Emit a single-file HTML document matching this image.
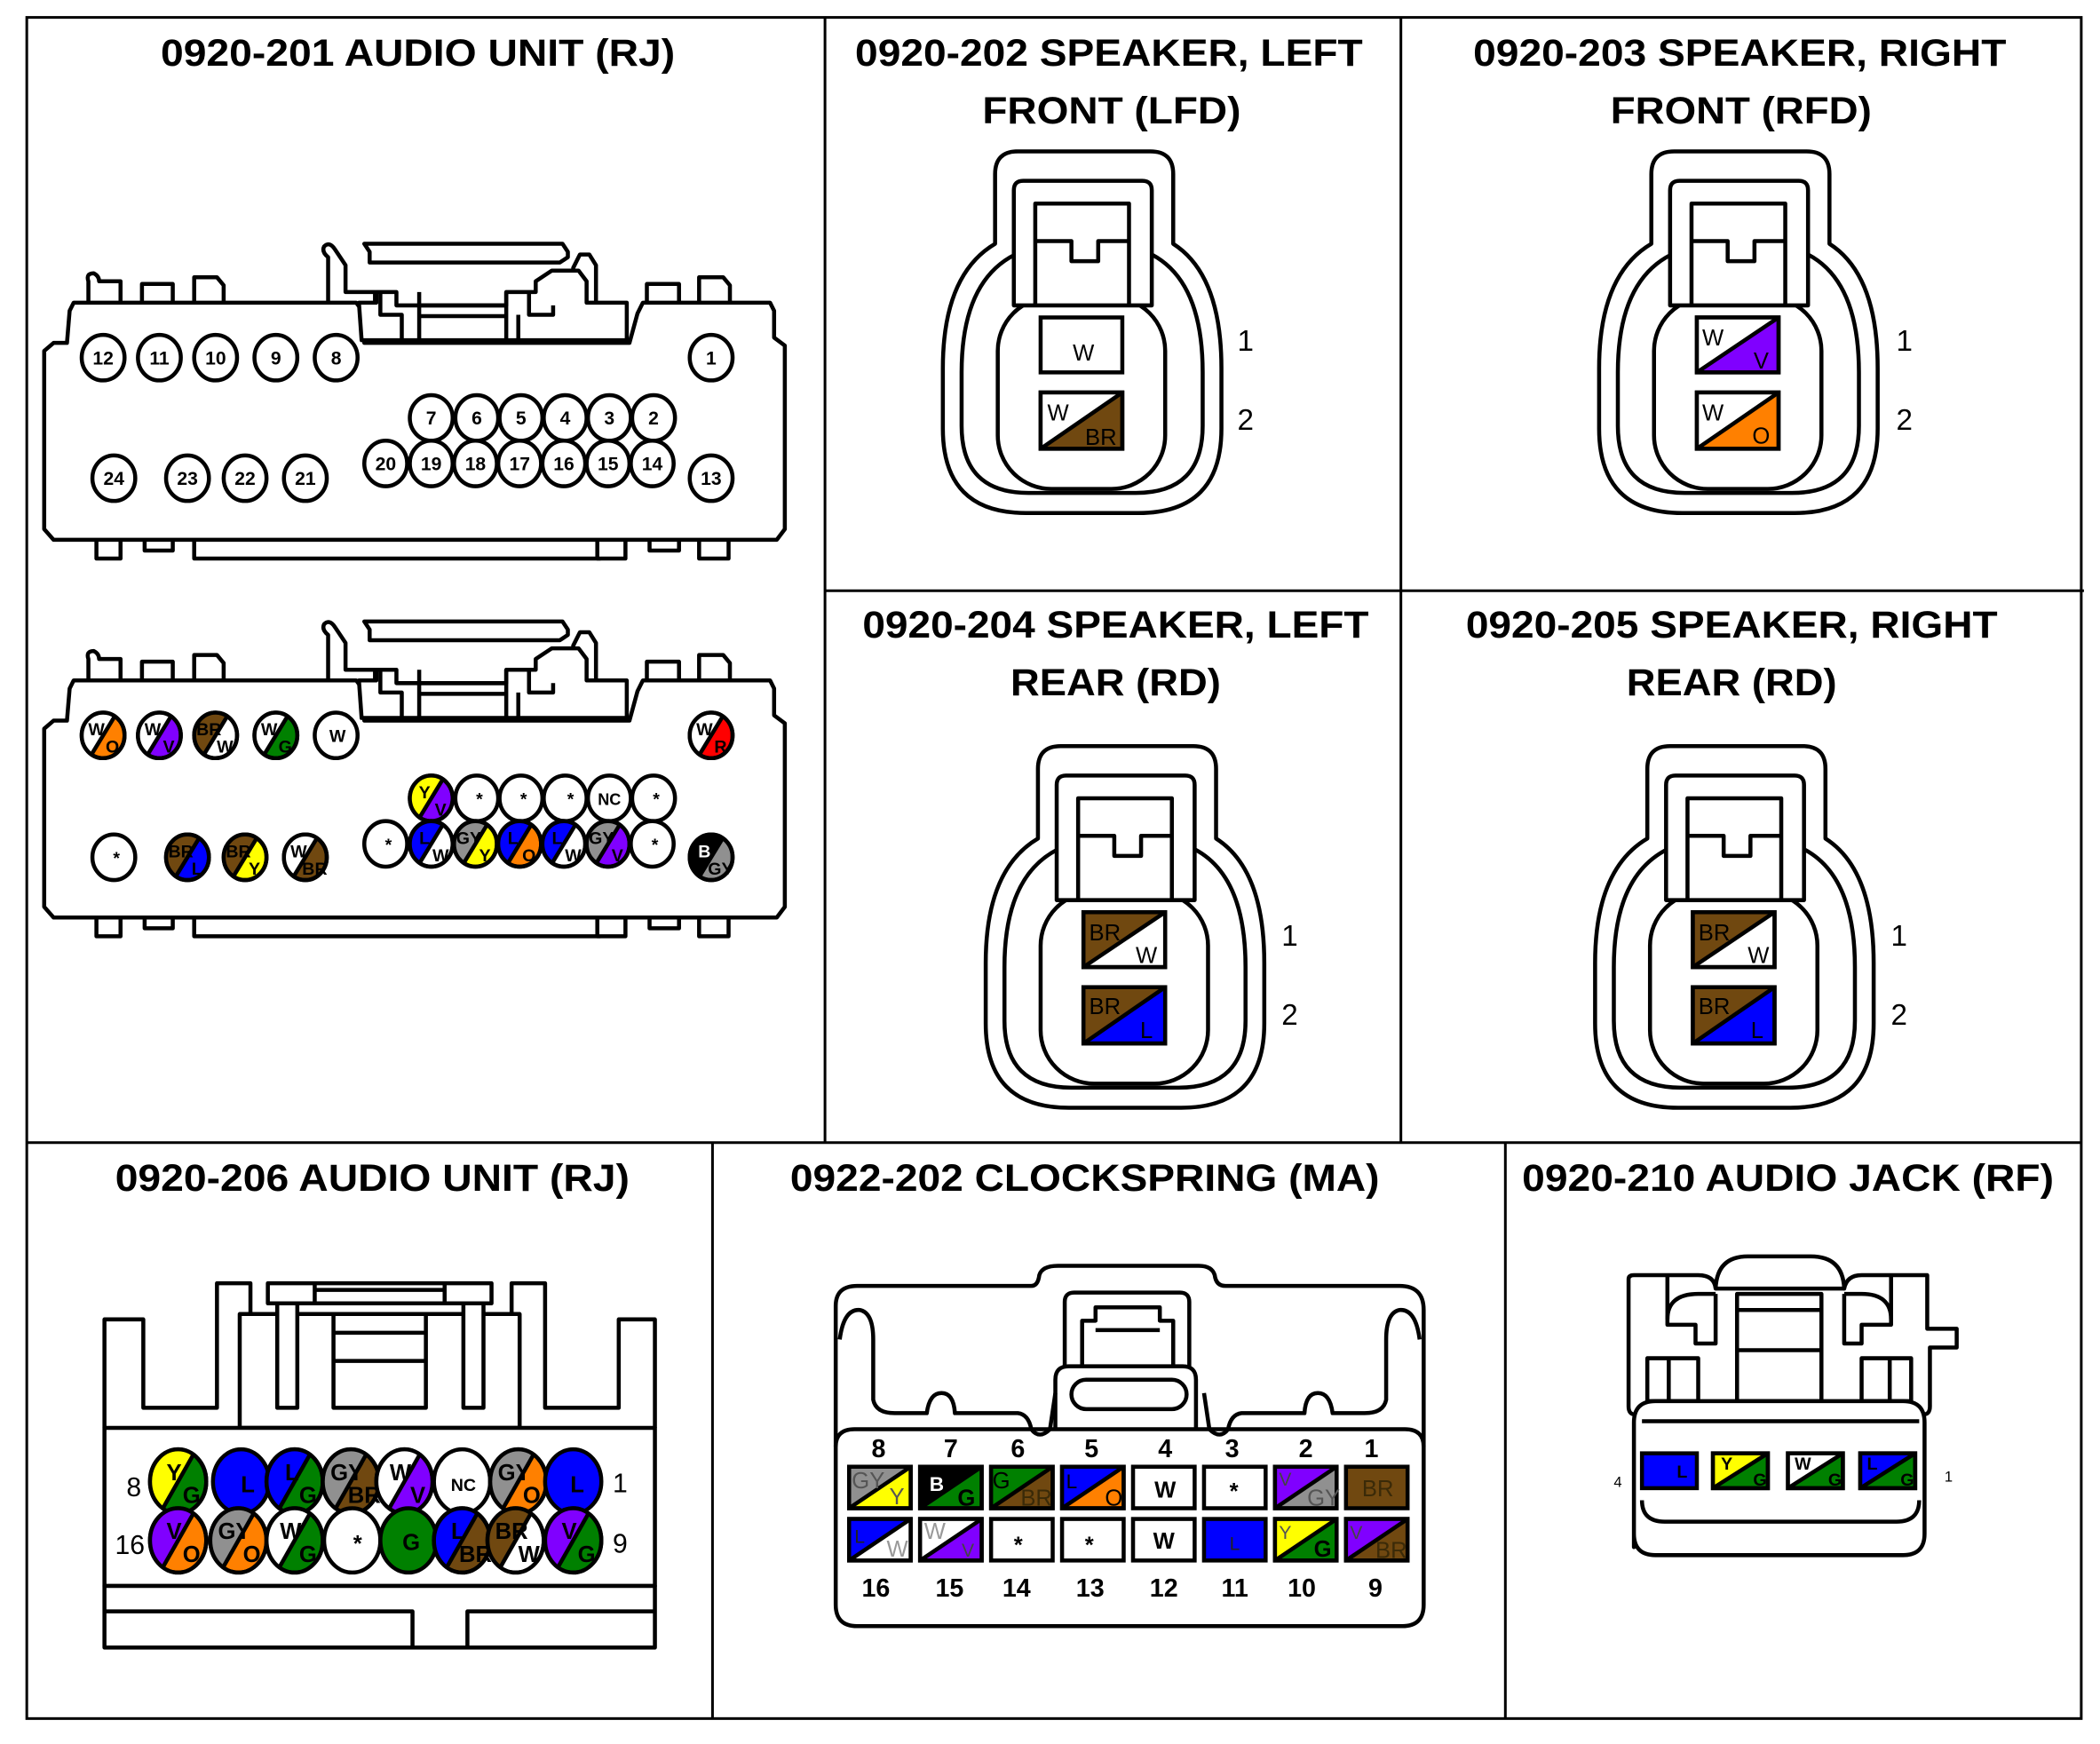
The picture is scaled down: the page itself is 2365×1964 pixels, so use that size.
<!DOCTYPE html>
<html><head><meta charset="utf-8"><style>
html,body{margin:0;padding:0;background:#fff}
svg{display:block}
text{font-family:"Liberation Sans",Arial,sans-serif}
.t{font-size:28px;font-weight:bold;text-anchor:middle}
.o{fill:none;stroke:#000;stroke-width:3;stroke-linejoin:round}
.ow{fill:#fff;stroke:#000;stroke-width:3;stroke-linejoin:round}
.n{font-size:14px;font-weight:bold;text-anchor:middle}
.pin ellipse{stroke:#000;stroke-width:3}
.pin line{stroke:#000;stroke-width:3}
.pin path{stroke:none}
.pl{font-size:13px;font-weight:bold;text-anchor:middle}
.pb{font-size:17px;font-weight:bold;text-anchor:middle}
.num{font-size:22px;text-anchor:middle}
.cn{font-size:19px;font-weight:bold;text-anchor:middle}
.cell rect{stroke:#000;stroke-width:3}
.cell line{stroke:#000;stroke-width:3}
</style></head><body>
<svg width="2365" height="1964" viewBox="0 0 1568 1302" preserveAspectRatio="none" xmlns="http://www.w3.org/2000/svg">
<rect x="0" y="0" width="1568" height="1302" fill="#fff"/>
<g stroke="#000" stroke-width="2" fill="none">
<rect x="20" y="13" width="1534" height="1270"/>
<line x1="616" y1="13" x2="616" y2="853"/>
<line x1="1046" y1="13" x2="1046" y2="853"/>
<line x1="616" y1="441" x2="1556" y2="441"/>
<line x1="20" y1="853" x2="1554" y2="853"/>
<line x1="532" y1="853" x2="532" y2="1283"/>
<line x1="1124" y1="853" x2="1124" y2="1283"/>
</g>
<text class="t" x="312" y="49" textLength="384" lengthAdjust="spacingAndGlyphs">0920-201 AUDIO UNIT (RJ)</text>
<text class="t" x="828" y="49" textLength="379" lengthAdjust="spacingAndGlyphs">0920-202 SPEAKER, LEFT</text>
<text class="t" x="830" y="92" textLength="193" lengthAdjust="spacingAndGlyphs">FRONT (LFD)</text>
<text class="t" x="1299" y="49" textLength="398" lengthAdjust="spacingAndGlyphs">0920-203 SPEAKER, RIGHT</text>
<text class="t" x="1300" y="92" textLength="195" lengthAdjust="spacingAndGlyphs">FRONT (RFD)</text>
<text class="t" x="833" y="476" textLength="378" lengthAdjust="spacingAndGlyphs">0920-204 SPEAKER, LEFT</text>
<text class="t" x="833" y="519" textLength="157" lengthAdjust="spacingAndGlyphs">REAR (RD)</text>
<text class="t" x="1293" y="476" textLength="397" lengthAdjust="spacingAndGlyphs">0920-205 SPEAKER, RIGHT</text>
<text class="t" x="1293" y="519" textLength="157" lengthAdjust="spacingAndGlyphs">REAR (RD)</text>
<text class="t" x="278" y="889" textLength="384" lengthAdjust="spacingAndGlyphs">0920-206 AUDIO UNIT (RJ)</text>
<text class="t" x="810" y="889" textLength="440" lengthAdjust="spacingAndGlyphs">0922-202 CLOCKSPRING (MA)</text>
<text class="t" x="1335" y="889" textLength="397" lengthAdjust="spacingAndGlyphs">0920-210 AUDIO JACK (RF)</text>

<defs>
<g id="c201">
 <path class="ow" d="M66,226 V210 Q64,204 70,204 Q74,206 74,210 H90 V226"/>
 <path class="ow" d="M106,226 V212 H129 V226"/>
 <path class="ow" d="M145,226 V207 H162 L167,213 V226"/>
 <path class="ow" d="M483,226 V212 H507 V226"/>
 <path class="ow" d="M522,226 V207 H540 L545,213 V226"/>
 <path class="ow" d="M72,400 V417 H90 V400"/>
 <path class="ow" d="M108,400 V411 H129 V400"/>
 <path class="ow" d="M145,400 V417 H448 V400"/>
 <path class="ow" d="M446,400 V417 H467 V400"/>
 <path class="ow" d="M485,400 V411 H507 V400"/>
 <path class="ow" d="M522,400 V417 H544 V400"/>
 <path class="ow" d="M245,226 V192 Q240,188 242,184 Q246,180 250,186 L258,198 V218 H280 V226"/>
 <path class="ow" d="M445,226 V198 L440,190 H433 L428,200 V216 H413 V226"/>
 <path class="ow" d="M276,188 L272,182 H420 L424,188 V192 L418,196 H276 Z"/>
 <path class="ow" d="M55,226 H266 L272,234 V256 H470 L476,234 L480,226 H575 L578,232 V252 L586,258 V395 L580,403 H40 L33,395 V262 L40,256 H50 L52,232 Z"/>
 <path class="ow" d="M268,226 H281 V218 L296,218 V228 H378 V218 H400 V210 L412,202 H432 L438,210 V226 H468 V254 H270 Z"/>
 <path class="o" d="M284,218 V235 H300 V254"/>
 <path class="o" d="M313,218 V254"/>
 <path class="o" d="M313,228 H378 M313,236 H378"/>
 <path class="o" d="M378,218 V254"/>
 <path class="o" d="M395,218 V235 H413 V228 M387,235 V254"/>
</g>
</defs>
<use href="#c201"/>
<use href="#c201" transform="translate(0,282)"/>

<g fill="#fff" stroke="#000" stroke-width="3">
<ellipse cx="77" cy="267" rx="16" ry="17"/><ellipse cx="119" cy="267" rx="16" ry="17"/><ellipse cx="161" cy="267" rx="16" ry="17"/><ellipse cx="206" cy="267" rx="16" ry="17"/><ellipse cx="251" cy="267" rx="16" ry="17"/><ellipse cx="531" cy="267" rx="16" ry="17"/>
<ellipse cx="322" cy="312" rx="16" ry="17"/><ellipse cx="356" cy="312" rx="16" ry="17"/><ellipse cx="389" cy="312" rx="16" ry="17"/><ellipse cx="422" cy="312" rx="16" ry="17"/><ellipse cx="455" cy="312" rx="16" ry="17"/><ellipse cx="488" cy="312" rx="16" ry="17"/>
<ellipse cx="288" cy="346" rx="16" ry="17"/><ellipse cx="322" cy="346" rx="16" ry="17"/><ellipse cx="355" cy="346" rx="16" ry="17"/><ellipse cx="388" cy="346" rx="16" ry="17"/><ellipse cx="421" cy="346" rx="16" ry="17"/><ellipse cx="454" cy="346" rx="16" ry="17"/><ellipse cx="487" cy="346" rx="16" ry="17"/>
<ellipse cx="85" cy="357" rx="16" ry="17"/><ellipse cx="140" cy="357" rx="16" ry="17"/><ellipse cx="183" cy="357" rx="16" ry="17"/><ellipse cx="228" cy="357" rx="16" ry="17"/><ellipse cx="531" cy="357" rx="16" ry="17"/>
</g>
<g class="n">
<text x="77" y="272">12</text><text x="119" y="272">11</text><text x="161" y="272">10</text><text x="206" y="272">9</text><text x="251" y="272">8</text><text x="531" y="272">1</text>
<text x="322" y="317">7</text><text x="356" y="317">6</text><text x="389" y="317">5</text><text x="422" y="317">4</text><text x="455" y="317">3</text><text x="488" y="317">2</text>
<text x="288" y="351">20</text><text x="322" y="351">19</text><text x="355" y="351">18</text><text x="388" y="351">17</text><text x="421" y="351">16</text><text x="454" y="351">15</text><text x="487" y="351">14</text>
<text x="85" y="362">24</text><text x="140" y="362">23</text><text x="183" y="362">22</text><text x="228" y="362">21</text><text x="531" y="362">13</text>
</g>

<defs>
<path id="h1" d="M-8.7,14.3A16,17 0 0 1 8.7,-14.3Z"/>
<path id="h2" d="M-11.4,20.1A21,24 0 0 1 11.4,-20.1Z"/>
</defs>
<g class="pin">
<g transform="translate(77,549)"><ellipse rx="16" ry="17" fill="#ff8000"/><use href="#h1" fill="#fff"/><line x1="-8.7" y1="14.3" x2="8.7" y2="-14.3"/><ellipse rx="16" ry="17" fill="none"/><text class="pl" x="-5" y="0">W</text><text class="pl" x="7" y="13">O</text></g>
<g transform="translate(119,549)"><ellipse rx="16" ry="17" fill="#8000ff"/><use href="#h1" fill="#fff"/><line x1="-8.7" y1="14.3" x2="8.7" y2="-14.3"/><ellipse rx="16" ry="17" fill="none"/><text class="pl" x="-5" y="0">W</text><text class="pl" x="7" y="13">V</text></g>
<g transform="translate(161,549)"><ellipse rx="16" ry="17" fill="#fff"/><use href="#h1" fill="#704810"/><line x1="-8.7" y1="14.3" x2="8.7" y2="-14.3"/><ellipse rx="16" ry="17" fill="none"/><text class="pl" x="-5" y="0">BR</text><text class="pl" x="7" y="13">W</text></g>
<g transform="translate(206,549)"><ellipse rx="16" ry="17" fill="#008000"/><use href="#h1" fill="#fff"/><line x1="-8.7" y1="14.3" x2="8.7" y2="-14.3"/><ellipse rx="16" ry="17" fill="none"/><text class="pl" x="-5" y="0">W</text><text class="pl" x="7" y="13">G</text></g>
<g transform="translate(251,549)"><ellipse rx="16" ry="17" fill="#fff"/><text class="pl" x="1" y="5">W</text></g>
<g transform="translate(531,549)"><ellipse rx="16" ry="17" fill="#ff0000"/><use href="#h1" fill="#fff"/><line x1="-8.7" y1="14.3" x2="8.7" y2="-14.3"/><ellipse rx="16" ry="17" fill="none"/><text class="pl" x="-5" y="0">W</text><text class="pl" x="7" y="13">R</text></g>

<g transform="translate(322,596)"><ellipse rx="16" ry="17" fill="#8000ff"/><use href="#h1" fill="#ffff00"/><line x1="-8.7" y1="14.3" x2="8.7" y2="-14.3"/><ellipse rx="16" ry="17" fill="none"/><text class="pl" x="-5" y="0">Y</text><text class="pl" x="7" y="13">V</text></g>
<g transform="translate(356,596)"><ellipse rx="16" ry="17" fill="#fff"/><text class="pl" x="2" y="5">*</text></g>
<g transform="translate(389,596)"><ellipse rx="16" ry="17" fill="#fff"/><text class="pl" x="2" y="5">*</text></g>
<g transform="translate(422,596)"><ellipse rx="16" ry="17" fill="#fff"/><text class="pl" x="4" y="5">*</text></g>
<g transform="translate(455,596)"><ellipse rx="16" ry="17" fill="#fff"/><text class="pl" x="0" y="5" style="font-size:12px">NC</text></g>
<g transform="translate(488,596)"><ellipse rx="16" ry="17" fill="#fff"/><text class="pl" x="2" y="5">*</text></g>

<g transform="translate(288,630)"><ellipse rx="16" ry="17" fill="#fff"/><text class="pl" x="2" y="5">*</text></g>
<g transform="translate(322,630)"><ellipse rx="16" ry="17" fill="#fff"/><use href="#h1" fill="#0000ff"/><line x1="-8.7" y1="14.3" x2="8.7" y2="-14.3"/><ellipse rx="16" ry="17" fill="none"/><text class="pl" x="-5" y="0">L</text><text class="pl" x="7" y="13">W</text></g>
<g transform="translate(355,630)"><ellipse rx="16" ry="17" fill="#ffff00"/><use href="#h1" fill="#909090"/><line x1="-8.7" y1="14.3" x2="8.7" y2="-14.3"/><ellipse rx="16" ry="17" fill="none"/><text class="pl" x="-5" y="0">GY</text><text class="pl" x="7" y="13">Y</text></g>
<g transform="translate(388,630)"><ellipse rx="16" ry="17" fill="#ff8000"/><use href="#h1" fill="#0000ff"/><line x1="-8.7" y1="14.3" x2="8.7" y2="-14.3"/><ellipse rx="16" ry="17" fill="none"/><text class="pl" x="-5" y="0">L</text><text class="pl" x="7" y="13">O</text></g>
<g transform="translate(421,630)"><ellipse rx="16" ry="17" fill="#fff"/><use href="#h1" fill="#0000ff"/><line x1="-8.7" y1="14.3" x2="8.7" y2="-14.3"/><ellipse rx="16" ry="17" fill="none"/><text class="pl" x="-5" y="0">L</text><text class="pl" x="7" y="13">W</text></g>
<g transform="translate(454,630)"><ellipse rx="16" ry="17" fill="#8000ff"/><use href="#h1" fill="#909090"/><line x1="-8.7" y1="14.3" x2="8.7" y2="-14.3"/><ellipse rx="16" ry="17" fill="none"/><text class="pl" x="-5" y="0">GY</text><text class="pl" x="7" y="13">V</text></g>
<g transform="translate(487,630)"><ellipse rx="16" ry="17" fill="#fff"/><text class="pl" x="2" y="5">*</text></g>

<g transform="translate(85,640)"><ellipse rx="16" ry="17" fill="#fff"/><text class="pl" x="2" y="5">*</text></g>
<g transform="translate(140,640)"><ellipse rx="16" ry="17" fill="#0000ff"/><use href="#h1" fill="#704810"/><line x1="-8.7" y1="14.3" x2="8.7" y2="-14.3"/><ellipse rx="16" ry="17" fill="none"/><text class="pl" x="-5" y="0">BR</text><text class="pl" x="7" y="13">L</text></g>
<g transform="translate(183,640)"><ellipse rx="16" ry="17" fill="#ffff00"/><use href="#h1" fill="#704810"/><line x1="-8.7" y1="14.3" x2="8.7" y2="-14.3"/><ellipse rx="16" ry="17" fill="none"/><text class="pl" x="-5" y="0">BR</text><text class="pl" x="7" y="13">Y</text></g>
<g transform="translate(228,640)"><ellipse rx="16" ry="17" fill="#704810"/><use href="#h1" fill="#fff"/><line x1="-8.7" y1="14.3" x2="8.7" y2="-14.3"/><ellipse rx="16" ry="17" fill="none"/><text class="pl" x="-5" y="0">W</text><text class="pl" x="7" y="13">BR</text></g>
<g transform="translate(531,640)"><ellipse rx="16" ry="17" fill="#909090"/><use href="#h1" fill="#000"/><line x1="-8.7" y1="14.3" x2="8.7" y2="-14.3"/><ellipse rx="16" ry="17" fill="none"/><text class="pl" x="-5" y="0" fill="#fff">B</text><text class="pl" x="7" y="13">GY</text></g>
</g>

<defs>
<g id="spk">
 <path class="o" d="M743,182 V130 Q743,113 760,113 H859 Q876,113 876,130 V182 Q912,205 912,275 V320 Q912,383 850,383 H766 Q704,383 704,320 V275 Q704,205 743,182 Z"/>
 <path class="o" d="M758,190 Q718,210 718,278 V318 Q718,368 768,368 H848 Q898,368 898,318 V278 Q898,210 860,190"/>
 <rect class="o" x="745" y="222" width="125" height="143" rx="40"/>
 <path class="ow" d="M757,228 V142 Q757,135 764,135 H853 Q860,135 860,142 V228 Z"/>
 <path class="o" d="M773,228 V152 H843 V228"/>
 <path class="o" d="M773,180 H800 V195 H820 V180 H843"/>
</g>
</defs>
<use href="#spk"/>
<use href="#spk" transform="translate(490,0)"/>
<use href="#spk" transform="translate(32,444)"/>
<use href="#spk" transform="translate(487,444)"/>

<g class="cell">
<rect x="777" y="237" width="61" height="41" fill="#fff"/><text class="pb" x="809" y="269" style="font-weight:normal">W</text>
<rect x="777" y="293" width="61" height="42" fill="#704810"/><path d="M777,335 V293 H838 Z" fill="#fff"/><line x1="777" y1="335" x2="838" y2="293"/><rect x="777" y="293" width="61" height="42" fill="none"/><text class="pb" x="790" y="314" style="font-weight:normal">W</text><text class="pb" x="822" y="332" style="font-weight:normal">BR</text>
<rect x="1267" y="237" width="61" height="41" fill="#8000ff"/><path d="M1267,278 V237 H1328 Z" fill="#fff"/><line x1="1267" y1="278" x2="1328" y2="237"/><rect x="1267" y="237" width="61" height="41" fill="none"/><text class="pb" x="1279" y="258" style="font-weight:normal">W</text><text class="pb" x="1315" y="275" style="font-weight:normal">V</text>
<rect x="1267" y="293" width="61" height="42" fill="#ff8000"/><path d="M1267,335 V293 H1328 Z" fill="#fff"/><line x1="1267" y1="335" x2="1328" y2="293"/><rect x="1267" y="293" width="61" height="42" fill="none"/><text class="pb" x="1279" y="314" style="font-weight:normal">W</text><text class="pb" x="1315" y="331" style="font-weight:normal">O</text>
<rect x="809" y="681" width="61" height="41" fill="#fff"/><path d="M809,722 V681 H870 Z" fill="#704810"/><line x1="809" y1="722" x2="870" y2="681"/><rect x="809" y="681" width="61" height="41" fill="none"/><text class="pb" x="825" y="702" style="font-weight:normal">BR</text><text class="pb" x="856" y="719" style="font-weight:normal">W</text>
<rect x="809" y="737" width="61" height="42" fill="#0000ff"/><path d="M809,779 V737 H870 Z" fill="#704810"/><line x1="809" y1="779" x2="870" y2="737"/><rect x="809" y="737" width="61" height="42" fill="none"/><text class="pb" x="825" y="757" style="font-weight:normal">BR</text><text class="pb" x="856" y="775" style="font-weight:normal">L</text>
<rect x="1264" y="681" width="61" height="41" fill="#fff"/><path d="M1264,722 V681 H1325 Z" fill="#704810"/><line x1="1264" y1="722" x2="1325" y2="681"/><rect x="1264" y="681" width="61" height="41" fill="none"/><text class="pb" x="1280" y="702" style="font-weight:normal">BR</text><text class="pb" x="1313" y="719" style="font-weight:normal">W</text>
<rect x="1264" y="737" width="61" height="42" fill="#0000ff"/><path d="M1264,779 V737 H1325 Z" fill="#704810"/><line x1="1264" y1="779" x2="1325" y2="737"/><rect x="1264" y="737" width="61" height="42" fill="none"/><text class="pb" x="1280" y="757" style="font-weight:normal">BR</text><text class="pb" x="1312" y="775" style="font-weight:normal">L</text>
</g>
<g class="num">
<text x="930" y="262">1</text><text x="930" y="321">2</text>
<text x="1422" y="262">1</text><text x="1422" y="321">2</text>
<text x="963" y="706">1</text><text x="963" y="765">2</text>
<text x="1418" y="706">1</text><text x="1418" y="765">2</text>
</g>

<g>
<path class="ow" d="M78,1066 V985 H107 V1051 H162 V958 H187 V1051"/>
<path class="ow" d="M489,1066 V985 H462 V1051 H407 V958 H382 V1051"/>
<rect class="ow" x="179" y="981" width="209" height="85"/>
<rect class="ow" x="200" y="958" width="167" height="15"/>
<path class="o" d="M235,958 V973 M332,958 V973 M235,963 H332"/>
<rect class="ow" x="207" y="973" width="15" height="78"/>
<rect class="ow" x="346" y="973" width="15" height="78"/>
<rect class="ow" x="249" y="981" width="69" height="70"/>
<path class="o" d="M249,995 H318 M249,1016 H318"/>
<rect class="ow" x="78" y="1066" width="411" height="118"/>
<rect class="ow" x="78" y="1184" width="411" height="46"/>
<path class="o" d="M78,1203 H308 V1230 M489,1203 H349 V1230"/>
</g>
<g class="pin">
<g transform="translate(133,1106)"><ellipse rx="21" ry="24" fill="#008000"/><use href="#h2" fill="#ffff00"/><line x1="-11.4" y1="20.1" x2="11.4" y2="-20.1"/><ellipse rx="21" ry="24" fill="none"/><text class="pb" x="-3" y="-1">Y</text><text class="pb" x="10" y="16">G</text></g>
<g transform="translate(180,1106)"><ellipse rx="21" ry="24" fill="#0000ff"/><text class="pb" x="5" y="8">L</text></g>
<g transform="translate(220,1106)"><ellipse rx="21" ry="24" fill="#008000"/><use href="#h2" fill="#0000ff"/><line x1="-11.4" y1="20.1" x2="11.4" y2="-20.1"/><ellipse rx="21" ry="24" fill="none"/><text class="pb" x="-2" y="-1">L</text><text class="pb" x="10" y="16">G</text></g>
<g transform="translate(262,1106)"><ellipse rx="21" ry="24" fill="#704810"/><use href="#h2" fill="#909090"/><line x1="-11.4" y1="20.1" x2="11.4" y2="-20.1"/><ellipse rx="21" ry="24" fill="none"/><text class="pb" x="-3" y="-1">GY</text><text class="pb" x="10" y="16">BR</text></g>
<g transform="translate(302,1106)"><ellipse rx="21" ry="24" fill="#8000ff"/><use href="#h2" fill="#fff"/><line x1="-11.4" y1="20.1" x2="11.4" y2="-20.1"/><ellipse rx="21" ry="24" fill="none"/><text class="pb" x="-3" y="-1">W</text><text class="pb" x="10" y="16">V</text></g>
<g transform="translate(345,1106)"><ellipse rx="21" ry="24" fill="#fff"/><text class="pl" x="1" y="7">NC</text></g>
<g transform="translate(387,1106)"><ellipse rx="21" ry="24" fill="#ff8000"/><use href="#h2" fill="#909090"/><line x1="-11.4" y1="20.1" x2="11.4" y2="-20.1"/><ellipse rx="21" ry="24" fill="none"/><text class="pb" x="-3" y="-1">GY</text><text class="pb" x="10" y="16">O</text></g>
<g transform="translate(428,1106)"><ellipse rx="21" ry="24" fill="#0000ff"/><text class="pb" x="3" y="8">L</text></g>

<g transform="translate(133,1150)"><ellipse rx="21" ry="24" fill="#ff8000"/><use href="#h2" fill="#8000ff"/><line x1="-11.4" y1="20.1" x2="11.4" y2="-20.1"/><ellipse rx="21" ry="24" fill="none"/><text class="pb" x="-3" y="-1">V</text><text class="pb" x="10" y="16">O</text></g>
<g transform="translate(178,1150)"><ellipse rx="21" ry="24" fill="#ff8000"/><use href="#h2" fill="#909090"/><line x1="-11.4" y1="20.1" x2="11.4" y2="-20.1"/><ellipse rx="21" ry="24" fill="none"/><text class="pb" x="-3" y="-1">GY</text><text class="pb" x="10" y="16">O</text></g>
<g transform="translate(220,1150)"><ellipse rx="21" ry="24" fill="#008000"/><use href="#h2" fill="#fff"/><line x1="-11.4" y1="20.1" x2="11.4" y2="-20.1"/><ellipse rx="21" ry="24" fill="none"/><text class="pb" x="-3" y="-1">W</text><text class="pb" x="10" y="16">G</text></g>
<g transform="translate(263,1150)"><ellipse rx="21" ry="24" fill="#fff"/><text class="pb" x="4" y="8">*</text></g>
<g transform="translate(305,1150)"><ellipse rx="21" ry="24" fill="#008000"/><text class="pb" x="2" y="7">G</text></g>
<g transform="translate(345,1150)"><ellipse rx="21" ry="24" fill="#704810"/><use href="#h2" fill="#0000ff"/><line x1="-11.4" y1="20.1" x2="11.4" y2="-20.1"/><ellipse rx="21" ry="24" fill="none"/><text class="pb" x="-3" y="-1">L</text><text class="pb" x="10" y="16">BR</text></g>
<g transform="translate(385,1150)"><ellipse rx="21" ry="24" fill="#fff"/><use href="#h2" fill="#704810"/><line x1="-11.4" y1="20.1" x2="11.4" y2="-20.1"/><ellipse rx="21" ry="24" fill="none"/><text class="pb" x="-3" y="-1">BR</text><text class="pb" x="10" y="16">W</text></g>
<g transform="translate(428,1150)"><ellipse rx="21" ry="24" fill="#008000"/><use href="#h2" fill="#8000ff"/><line x1="-11.4" y1="20.1" x2="11.4" y2="-20.1"/><ellipse rx="21" ry="24" fill="none"/><text class="pb" x="-3" y="-1">V</text><text class="pb" x="10" y="16">G</text></g>
</g>
<g style="font-size:20px;text-anchor:middle">
<text x="100" y="1117">8</text><text x="97" y="1160">16</text><text x="463" y="1114">1</text><text x="463" y="1159">9</text>
</g>

<g>
<path class="o" d="M624,975 Q624,960 640,960 H770 Q775,960 776,952 Q778,945 790,945 H895 Q905,945 907,952 Q908,960 915,960 H1045 Q1063,960 1063,978 V1198 Q1063,1214 1047,1214 H640 Q624,1214 624,1198 Z"/>
<path class="o" d="M627,1000 Q630,977 642,978 Q652,980 652,1000 V1045 Q654,1055 668,1055 H692 Q694,1040 703,1040 Q712,1040 713,1055 H760 Q768,1056 770,1067 Q776,1075 784,1067 L788,1040"/>
<path class="o" d="M1060,1000 Q1057,977 1045,978 Q1035,980 1035,1000 V1045 Q1033,1055 1019,1055 H995 Q993,1040 984,1040 Q975,1040 974,1055 H927 Q919,1056 917,1067 Q911,1075 903,1067 L899,1040"/>
<path class="o" d="M795,1020 V972 Q795,965 802,965 H881 Q888,965 888,972 V1020"/>
<path class="o" d="M808,1020 V986 H818 V976 H866 V986 H876 V1020"/>
<path class="o" d="M818,993 H866"/>
<path class="o" d="M788,1067 V1030 Q788,1020 798,1020 H883 Q893,1020 893,1030 V1067"/>
<rect class="o" x="800" y="1030" width="86" height="22" rx="11"/>
<path class="o" d="M624,1080 Q624,1067 638,1067 H1049 Q1063,1067 1063,1080"/>
</g>
<g class="cn">
<text x="656" y="1088">8</text><text x="710" y="1088">7</text><text x="760" y="1088">6</text><text x="815" y="1088">5</text><text x="870" y="1088">4</text><text x="920" y="1088">3</text><text x="975" y="1088">2</text><text x="1024" y="1088">1</text>
<text x="654" y="1192">16</text><text x="709" y="1192">15</text><text x="759" y="1192">14</text><text x="814" y="1192">13</text><text x="869" y="1192">12</text><text x="922" y="1192">11</text><text x="972" y="1192">10</text><text x="1027" y="1192">9</text>
</g>
<g class="cell" style="font-size:17px">
<rect x="634" y="1095" width="46" height="31" fill="#ffff00"/><path d="M634,1126 V1095 H680 Z" fill="#909090"/><line x1="634" y1="1126" x2="680" y2="1095"/><rect x="634" y="1095" width="46" height="31" fill="none"/><text x="636" y="1111" fill="#555">GY</text><text x="664" y="1123" fill="#555">Y</text>
<rect x="687" y="1095" width="46" height="31" fill="#008000"/><path d="M687,1126 V1095 H733 Z" fill="#000"/><line x1="687" y1="1126" x2="733" y2="1095"/><rect x="687" y="1095" width="46" height="31" fill="none"/><text x="694" y="1113" fill="#fff" font-weight="bold" style="font-size:15px">B</text><text x="715" y="1124" font-weight="bold">G</text>
<rect x="740" y="1095" width="46" height="31" fill="#704810"/><path d="M740,1126 V1095 H786 Z" fill="#008000"/><line x1="740" y1="1126" x2="786" y2="1095"/><rect x="740" y="1095" width="46" height="31" fill="none"/><text x="741" y="1111">G</text><text x="762" y="1124" fill="#3a2a08">BR</text>
<rect x="793" y="1095" width="46" height="31" fill="#ff8000"/><path d="M793,1126 V1095 H839 Z" fill="#0000ff"/><line x1="793" y1="1126" x2="839" y2="1095"/><rect x="793" y="1095" width="46" height="31" fill="none"/><text x="796" y="1111" style="font-size:15px">L</text><text x="825" y="1124">O</text>
<rect x="846" y="1095" width="46" height="31" fill="#fff"/><text x="862" y="1118" font-weight="bold">W</text>
<rect x="899" y="1095" width="46" height="31" fill="#fff"/><text x="918" y="1119" font-weight="bold">*</text>
<rect x="952" y="1095" width="46" height="31" fill="#909090"/><path d="M952,1126 V1095 H998 Z" fill="#8000ff"/><line x1="952" y1="1126" x2="998" y2="1095"/><rect x="952" y="1095" width="46" height="31" fill="none"/><text x="955" y="1109" fill="#444" style="font-size:14px">V</text><text x="976" y="1124" fill="#555">GY</text>
<rect x="1005" y="1095" width="46" height="31" fill="#704810"/><text x="1017" y="1117" fill="#3a2a08">BR</text>
<rect x="634" y="1134" width="46" height="31" fill="#fff"/><path d="M634,1165 V1134 H680 Z" fill="#0000ff"/><line x1="634" y1="1165" x2="680" y2="1134"/><rect x="634" y="1134" width="46" height="31" fill="none"/><text x="638" y="1152" fill="#222" style="font-size:14px">L</text><text x="662" y="1162" fill="#999">W</text>
<rect x="687" y="1134" width="46" height="31" fill="#8000ff"/><path d="M687,1165 V1134 H733 Z" fill="#fff"/><line x1="687" y1="1165" x2="733" y2="1134"/><rect x="687" y="1134" width="46" height="31" fill="none"/><text x="690" y="1149" fill="#999">W</text><text x="718" y="1162" fill="#444" style="font-size:14px">V</text>
<rect x="740" y="1134" width="46" height="31" fill="#fff"/><text x="757" y="1159" font-weight="bold">*</text>
<rect x="793" y="1134" width="46" height="31" fill="#fff"/><text x="810" y="1159" font-weight="bold">*</text>
<rect x="846" y="1134" width="46" height="31" fill="#fff"/><text x="861" y="1156" font-weight="bold">W</text>
<rect x="899" y="1134" width="46" height="31" fill="#0000ff"/><text x="918" y="1157" fill="#222" style="font-size:14px">L</text>
<rect x="952" y="1134" width="46" height="31" fill="#008000"/><path d="M952,1165 V1134 H998 Z" fill="#ffff00"/><line x1="952" y1="1165" x2="998" y2="1134"/><rect x="952" y="1134" width="46" height="31" fill="none"/><text x="955" y="1149" fill="#555" style="font-size:14px">Y</text><text x="981" y="1162" font-weight="bold">G</text>
<rect x="1005" y="1134" width="46" height="31" fill="#704810"/><path d="M1005,1165 V1134 H1051 Z" fill="#8000ff"/><line x1="1005" y1="1165" x2="1051" y2="1134"/><rect x="1005" y="1134" width="46" height="31" fill="none"/><text x="1008" y="1149" fill="#444" style="font-size:14px">V</text><text x="1027" y="1163" fill="#3a2a08">BR</text>
</g>

<g>
<path class="ow" d="M1216,1050 V955 Q1216,952 1220,952 H1268 Q1280,952 1281,962 Q1282,938 1305,938 H1352 Q1376,938 1377,962 Q1379,952 1390,952 H1439 V992 H1461 V1006 H1441 V1050 Q1441,1056 1436,1056 H1221 Q1216,1056 1216,1050 Z"/>
<path class="o" d="M1245,952 V989 H1266 V1003 H1281 V966 M1281,962 H1377 M1377,966 V1003 H1390 V989 H1412 V952"/>
<path class="o" d="M1245,985 Q1245,966 1268,966 H1281 M1412,985 Q1412,966 1390,966 H1377"/>
<rect class="ow" x="1297" y="966" width="63" height="80"/>
<path class="o" d="M1297,978 H1360 M1297,1008 H1360"/>
<rect class="ow" x="1230" y="1014" width="38" height="32"/><path class="o" d="M1246,1014 V1046"/>
<rect class="ow" x="1390" y="1014" width="37" height="32"/><path class="o" d="M1411,1014 V1046"/>
<path class="ow" d="M1220,1155 V1062 Q1220,1046 1236,1046 H1421 Q1437,1046 1437,1062 V1145 Q1437,1161 1421,1161 H1236 Q1220,1161 1220,1145 Z"/>
<path class="o" d="M1226,1061 H1433 M1226,1120 Q1226,1136 1243,1136 H1416 Q1433,1136 1433,1120"/>
</g>
<g class="cell" style="font-size:13px;font-weight:bold">
<rect x="1226" y="1085" width="41" height="26" fill="#0000ff"/><text x="1252" y="1103">L</text>
<rect x="1279" y="1085" width="41" height="26" fill="#008000"/><path d="M1279,1111 V1085 H1320 Z" fill="#ffff00"/><line x1="1279" y1="1111" x2="1320" y2="1085"/><rect x="1279" y="1085" width="41" height="26" fill="none"/><text x="1285" y="1097">Y</text><text x="1309" y="1109">G</text>
<rect x="1335" y="1085" width="41" height="26" fill="#008000"/><path d="M1335,1111 V1085 H1376 Z" fill="#fff"/><line x1="1335" y1="1111" x2="1376" y2="1085"/><rect x="1335" y="1085" width="41" height="26" fill="none"/><text x="1340" y="1097">W</text><text x="1365" y="1109">G</text>
<rect x="1389" y="1085" width="41" height="26" fill="#008000"/><path d="M1389,1111 V1085 H1430 Z" fill="#0000ff"/><line x1="1389" y1="1111" x2="1430" y2="1085"/><rect x="1389" y="1085" width="41" height="26" fill="none"/><text x="1394" y="1097">L</text><text x="1419" y="1109">G</text>
</g>
<text x="1208" y="1110" style="font-size:11px;text-anchor:middle">4</text>
<text x="1455" y="1106" style="font-size:11px;text-anchor:middle">1</text>
</svg>
</body></html>
